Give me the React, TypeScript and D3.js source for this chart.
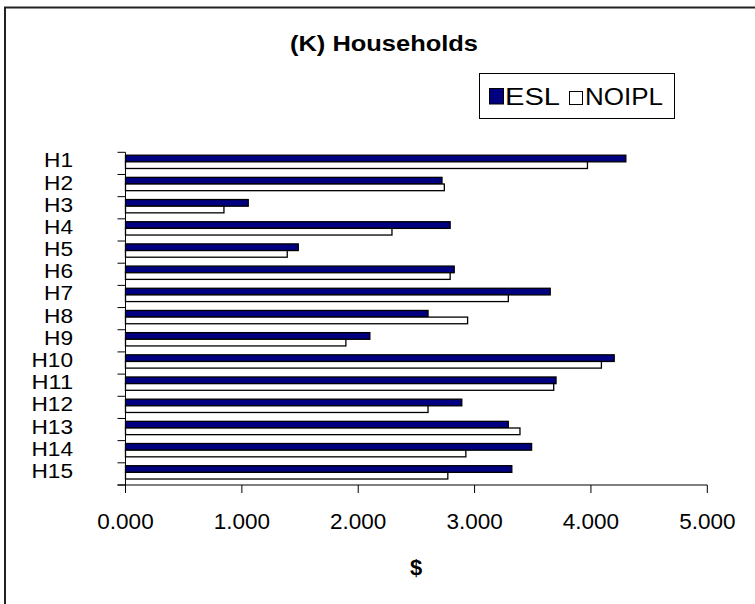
import React from "react";
import * as d3 from "d3";

const categories = ["H1","H2","H3","H4","H5","H6","H7","H8","H9","H10","H11","H12","H13","H14","H15"];
const seriesNames = ["ESL", "NOIPL"];
const eslValues = [4.30, 2.72, 1.055, 2.79, 1.485, 2.825, 3.65, 2.60, 2.10, 4.20, 3.70, 2.89, 3.29, 3.49, 3.32];
const noiplValues = [3.97, 2.74, 0.846, 2.29, 1.39, 2.79, 3.29, 2.94, 1.894, 4.09, 3.68, 2.60, 3.39, 2.925, 2.77];
const xTicks = [0, 1, 2, 3, 4, 5];
const seriesColors = ["#000080", "#ffffff"];

const W = 755;
const H = 604;
const FONT = "'Liberation Sans', Arial, Helvetica, sans-serif";

export default function App() {
  const x = d3.scaleLinear().domain([0, 5]).range([125.5, 707.3]);
  const y = d3.scaleBand<string>().domain(categories).range([152.3, 485]).padding(0);
  const step = y.step();
  const groupH = step * 0.6;
  const groupOff = step * 0.13;
  const sub = d3.scaleBand<string>().domain(seriesNames).range([0, groupH]).padding(0);
  const values = [eslValues, noiplValues];
  const fmt = d3.format(".3f");
  const x0 = x(0);
  const yBottom = y.range()[1];
  const yTop = y.range()[0];
  const boundaries = d3.range(categories.length + 1).map((i) => yTop + i * step);

  return (
    <svg
      width={W}
      height={H}
      style={{ position: "absolute", left: 0, top: 0, background: "#fff" }}
      fontFamily={FONT}
    >
      <rect x={0} y={0} width={W} height={H} fill="#fff" />
      <rect x={5} y={7.5} width={800} height={700} fill="none" stroke="#222" strokeWidth={2} />

      <text x={384} y={51} textAnchor="middle" fontSize={22} fontWeight="bold" textLength={188} lengthAdjust="spacingAndGlyphs" fill="#000">
        (K) Households
      </text>

      {/* legend */}
      <rect x={479.5} y={73.5} width={195} height={45} fill="#fff" stroke="#000" strokeWidth={1} />
      <rect x={489.5} y={88.5} width={14} height={15.5} fill={seriesColors[0]} stroke="#000" strokeWidth={1} />
      <text x={505} y={104.5} fontSize={23} textLength={55} lengthAdjust="spacingAndGlyphs" fill="#000">{seriesNames[0]}</text>
      <rect x={569.5} y={91.5} width={13} height={13} fill={seriesColors[1]} stroke="#000" strokeWidth={1} />
      <text x={585} y={104.5} fontSize={23} textLength={78} lengthAdjust="spacingAndGlyphs" fill="#000">{seriesNames[1]}</text>

      {/* bars */}
      {categories.map((c, i) => (
        <g key={c} transform={`translate(0,${(y(c) as number) + groupOff})`}>
          {seriesNames.map((s, k) => (
            <rect
              key={s}
              x={x0}
              y={sub(s) as number}
              width={x(values[k][i]) - x0}
              height={sub.bandwidth()}
              fill={seriesColors[k]}
              stroke="#000"
              strokeWidth={1.3}
            />
          ))}
        </g>
      ))}

      {/* y axis */}
      <line x1={x0} x2={x0} y1={yTop} y2={yBottom + 8} stroke="#000" strokeWidth={1} />
      {boundaries.map((b, i) => (
        <line key={i} x1={x0 - 8} x2={x0} y1={b} y2={b} stroke="#000" strokeWidth={1} />
      ))}
      {categories.map((c) => (
        <text key={c} x={73} y={(y(c) as number) + step / 2 + 4} textAnchor="end" fontSize={19.5} textLength={c.length > 2 ? 41.5 : 29} lengthAdjust="spacingAndGlyphs" fill="#000">
          {c}
        </text>
      ))}

      {/* x axis */}
      <line x1={x0 - 8} x2={x(5)} y1={yBottom} y2={yBottom} stroke="#000" strokeWidth={1} />
      {xTicks.map((t) => (
        <g key={t}>
          <line x1={x(t)} x2={x(t)} y1={yBottom} y2={yBottom + 8} stroke="#000" strokeWidth={1} />
          <text x={x(t)} y={529} textAnchor="middle" fontSize={22.5} fill="#000">
            {fmt(t)}
          </text>
        </g>
      ))}
      <text x={416} y={575} textAnchor="middle" fontSize={22} fontWeight="bold" fill="#000">$</text>
    </svg>
  );
}
